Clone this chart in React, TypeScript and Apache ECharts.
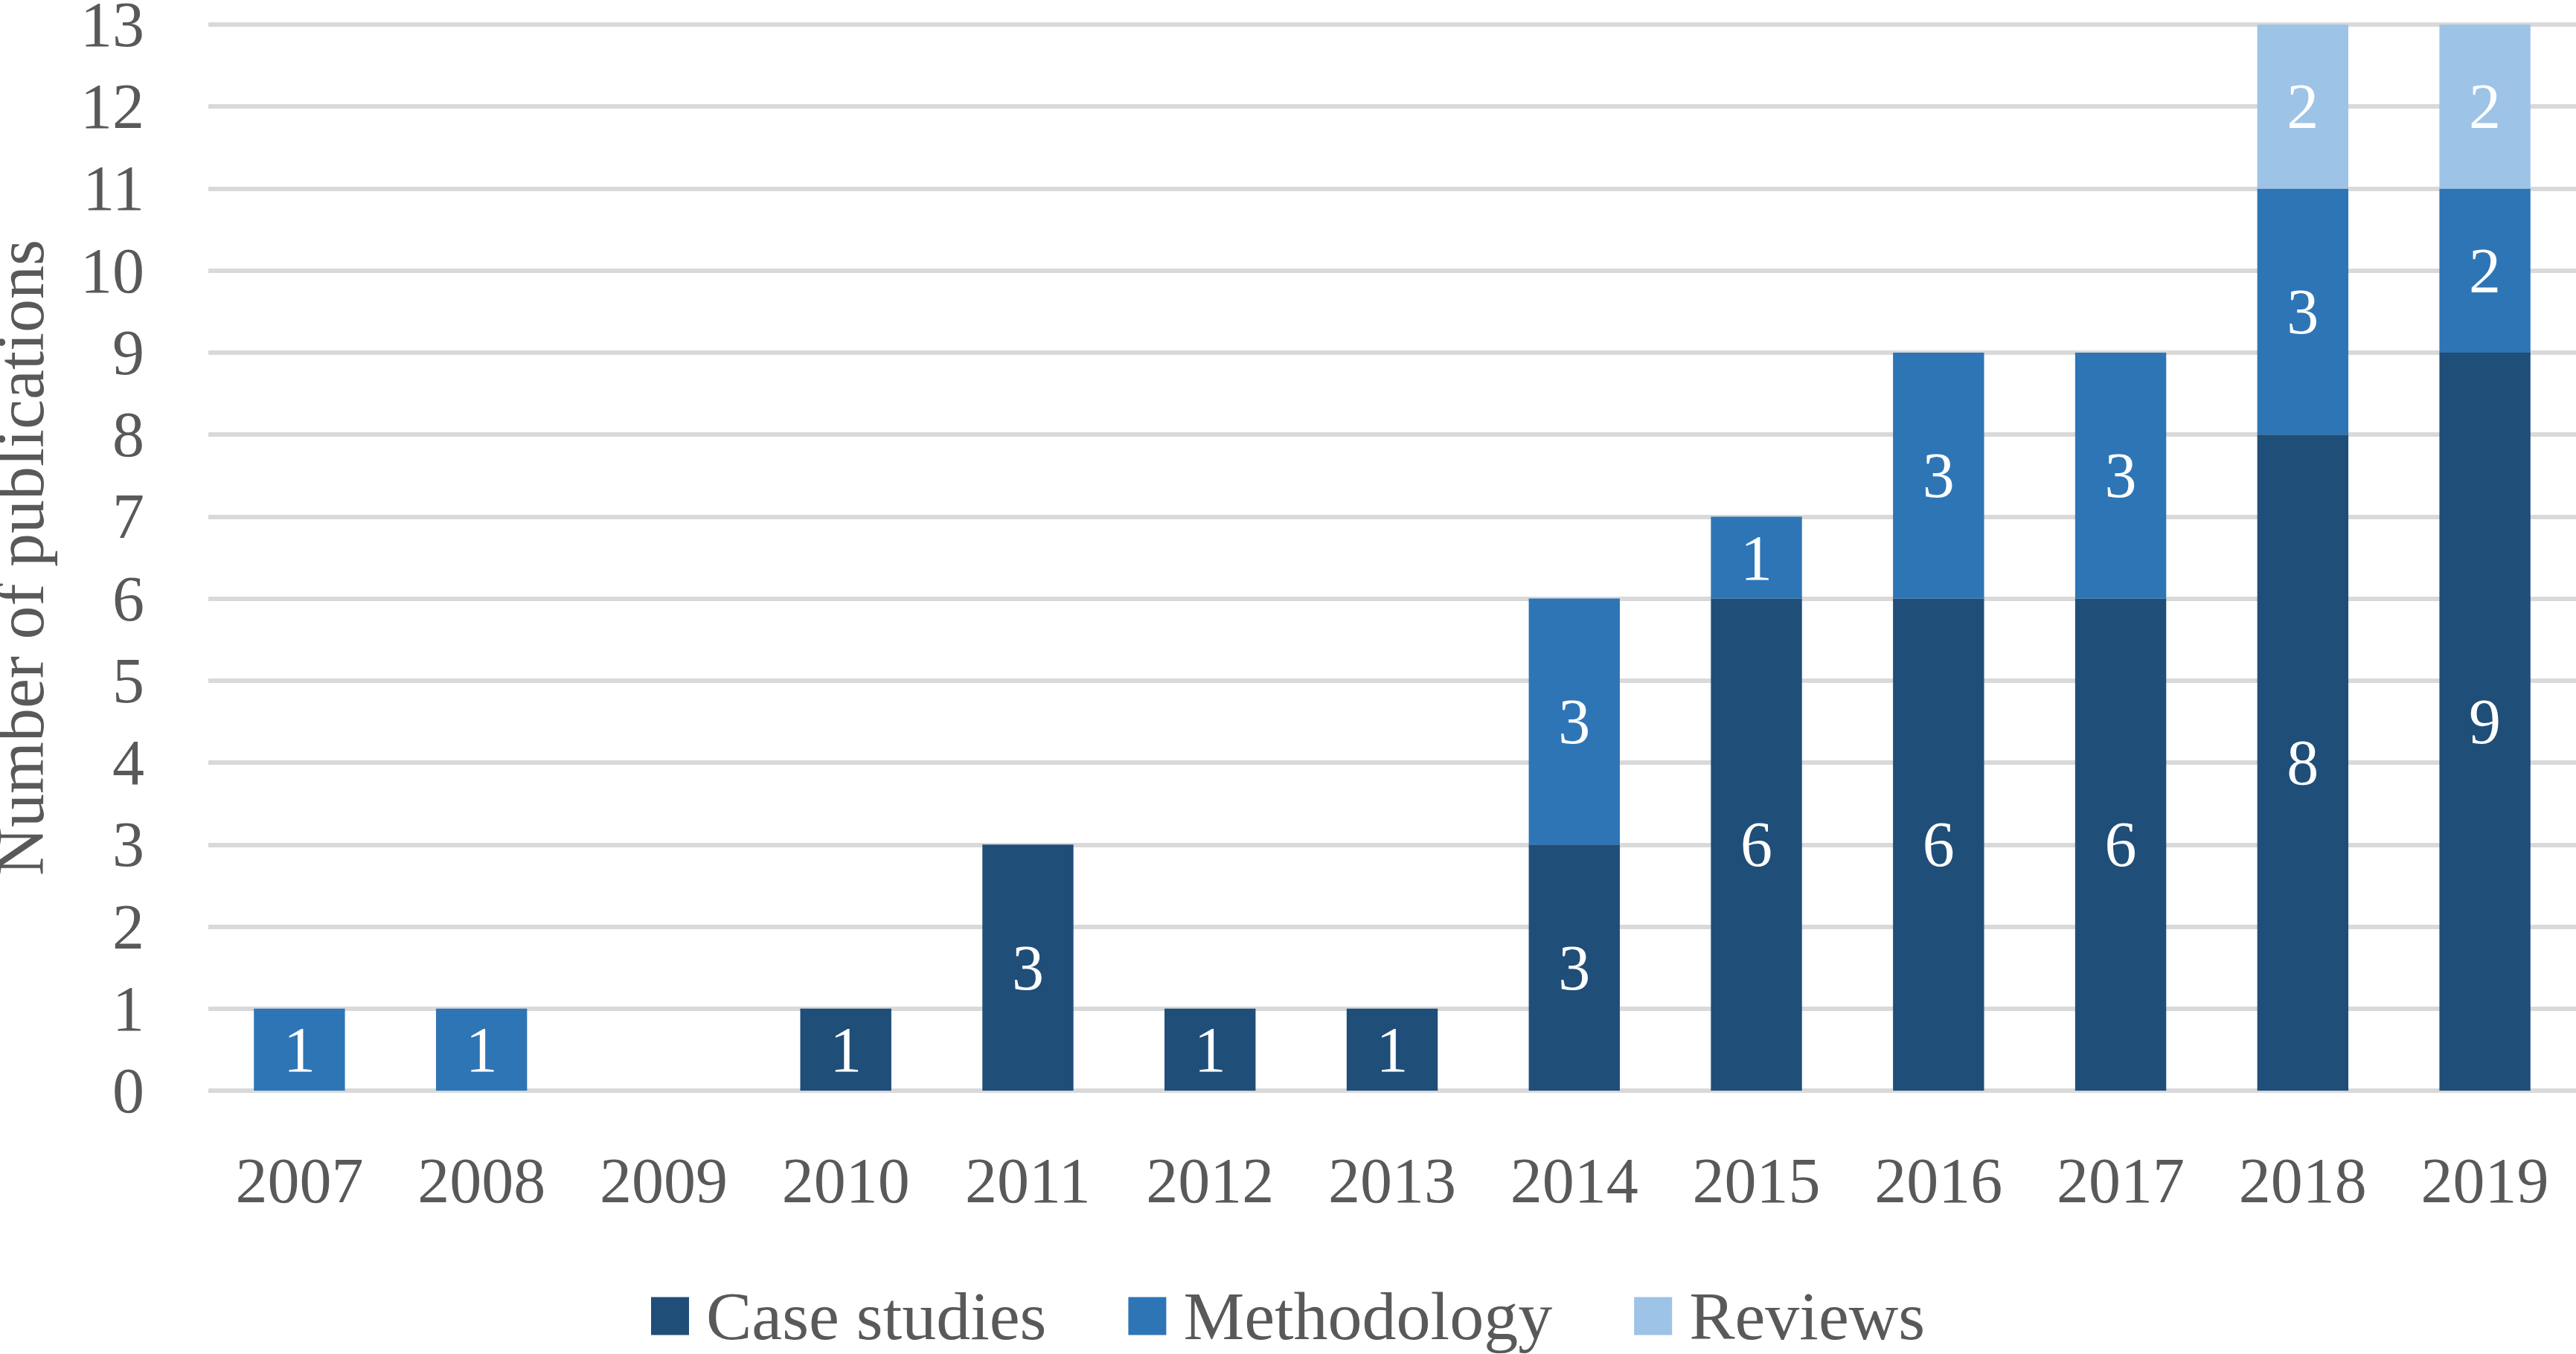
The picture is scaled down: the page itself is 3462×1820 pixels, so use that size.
import React, { useEffect, useRef } from "react";
import * as echarts from "echarts";

const years = ["2007", "2008", "2009", "2010", "2011", "2012", "2013", "2014", "2015", "2016", "2017", "2018", "2019"];
const caseStudies = [0, 0, 0, 1, 3, 1, 1, 3, 6, 6, 6, 8, 9];
const methodology = [1, 1, 0, 0, 0, 0, 0, 3, 1, 3, 3, 3, 2];
const reviews = [0, 0, 0, 0, 0, 0, 0, 0, 0, 0, 0, 2, 2];

const FONT = "'Liberation Serif', 'DejaVu Serif', serif";
const GRAY = "#595959";

export default function App() {
  const ref = useRef<HTMLDivElement>(null);
  useEffect(() => {
    if (!ref.current) return;
    const chart = echarts.init(ref.current, null, { renderer: "svg" });
    const mk = (name: string, data: number[], color: string) => ({
      name,
      type: "bar",
      stack: "total",
      barCategoryGap: "50%",
      data: data.map((v) => (v === 0 ? null : v)),
      itemStyle: { color },
      label: {
        show: true,
        position: "inside",
        color: "#ffffff",
        fontFamily: FONT,
        fontSize: 86,
      },
    });
    chart.setOption({
      animation: false,
      textStyle: { fontFamily: FONT },
      grid: {
        left: 280,
        right: 0,
        top: 33,
        bottom: 354,
        containLabel: false,
        outerBoundsMode: "none",
      },
      legend: {
        top: 1718,
        left: "center",
        itemWidth: 51,
        itemHeight: 51,
        itemGap: 110,
        icon: "rect",
        textStyle: {
          fontFamily: FONT,
          fontSize: 92,
          lineHeight: 92,
          color: GRAY,
          padding: [0, 0, 0, 18],
        },
        data: ["Case studies", "Methodology", "Reviews"],
      },
      xAxis: {
        type: "category",
        data: years,
        axisLine: { show: false },
        axisTick: { show: false },
        axisLabel: { fontFamily: FONT, fontSize: 86, color: GRAY, margin: 78 },
      },
      yAxis: {
        type: "value",
        min: 0,
        max: 13,
        interval: 1,
        name: "Number of publications",
        nameLocation: "middle",
        nameGap: 208,
        nameTextStyle: { fontFamily: FONT, fontSize: 90, color: GRAY },
        axisLine: { show: false },
        axisTick: { show: false },
        axisLabel: { fontFamily: FONT, fontSize: 86, color: GRAY, margin: 86 },
        splitLine: { lineStyle: { color: "#d9d9d9", width: 6 } },
      },
      series: [
        mk("Case studies", caseStudies, "#1f4e79"),
        mk("Methodology", methodology, "#2e75b6"),
        mk("Reviews", reviews, "#9dc3e6"),
      ],
    });
    return () => chart.dispose();
  }, []);
  return (
    <div
      ref={ref}
      style={{ position: "fixed", left: 0, top: 0, width: 3462, height: 1820, background: "#fff" }}
    />
  );
}
